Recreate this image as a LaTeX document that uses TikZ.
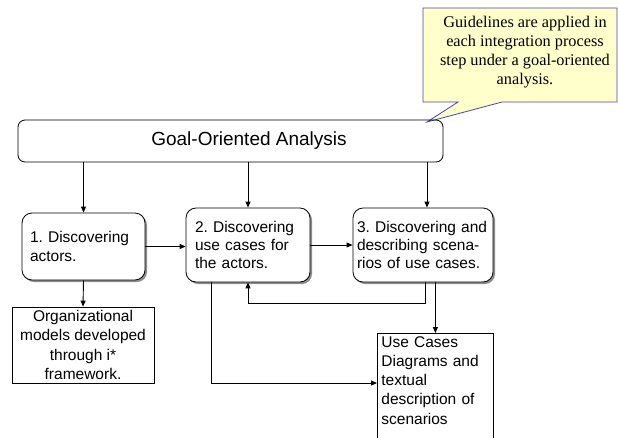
\documentclass[tikz,border=0pt]{standalone}
\usepackage{fontspec}
\setmainfont{Liberation Serif}
\newfontfamily\arialf{Liberation Sans}
\usetikzlibrary{arrows.meta,shadows}
\frenchspacing
\definecolor{notefill}{HTML}{FFFFCC}
\definecolor{noteline}{HTML}{4646B4}
\tikzset{
  arr/.style={line width=0.9pt,-{Triangle[length=6pt,width=5pt]}},
  stepbox/.style={draw,line width=0.8pt,rounded corners=10pt,fill=white,
    drop shadow={shadow xshift=2pt,shadow yshift=-2pt,fill=black!45,opacity=1},
    font=\arialf\fontsize{15.5}{18.2}\selectfont,align=left,inner sep=0pt},
  outbox/.style={draw,line width=0.8pt,fill=white,inner sep=0pt,
    font=\arialf\fontsize{15.5}{19.2}\selectfont},
}
\begin{document}
\begin{tikzpicture}[x=1pt,y=-1pt]
\useasboundingbox (0,0) rectangle (618,437);

% guideline callout
\path[fill=notefill,draw=noteline,line width=0.8pt]
  (423,8) -- (617,8) -- (617,102) -- (502,102) -- (427,122) -- (458,102) -- (423,102) -- cycle;
\node[align=center,font=\fontsize{16.3}{19}\selectfont] (note) at (525,52)
  {Guidelines are applied in\\each integration process\\step under a goal-oriented\\analysis.};

% top-level analysis bar
\node[draw,line width=0.8pt,rounded corners=7pt,minimum width=425pt,minimum height=42pt,inner sep=0pt]
  (goal) at (230.5,141) {};
\node[font=\arialf\fontsize{19}{22}\selectfont] (goaltext) at (249,141) {Goal-Oriented Analysis};

% process steps
\node[stepbox,minimum width=123pt,minimum height=67pt,text width=107pt] (s1) at (83.5,246.5)
  {1. Discovering\\actors.};
\node[stepbox,minimum width=124pt,minimum height=74pt,text width=106pt] (s2) at (248,245)
  {2. Discovering\\use cases for\\the actors.};
\node[stepbox,minimum width=140pt,minimum height=74pt,text width=132pt] (s3) at (423,245)
  {3. Discovering and\\describing scena-\\rios of use cases.};

% products
\node[outbox,minimum width=142pt,minimum height=76pt,align=center] (org) at (83,345)
  {Organizational\\models developed\\through i*\\framework.};
\node[outbox,anchor=north west,text width=108pt,minimum width=116pt,align=left,
  inner xsep=4pt,inner ysep=3pt] (uc) at (377,333)
  {Use Cases\\Diagrams and\\textual\\description of\\scenarios\\\rule{0pt}{40pt}};

% connectors
\draw[arr] (goal.south -| s1.north) -- (s1.north);
\draw[arr] (goal.south -| s2.north) -- (s2.north);
\draw[arr] ([xshift=4pt]goal.south -| s3.north) -- ([xshift=4pt]s3.north);
\draw[arr] (s1.east) -- (s1.east -| s2.west);
\draw[arr] (s2.east) -- (s3.west);
\draw[arr] (s1.south) -- (org.north);
\draw[arr] ([xshift=2pt]s3.south) -- ++(0,21) -| (s2.south);
\draw[arr] (s3.south -| uc.north) -- (uc.north);
\draw[arr] ([xshift=-37pt]s2.south) |- ([yshift=-50pt]uc.north west);
\end{tikzpicture}
\end{document}
